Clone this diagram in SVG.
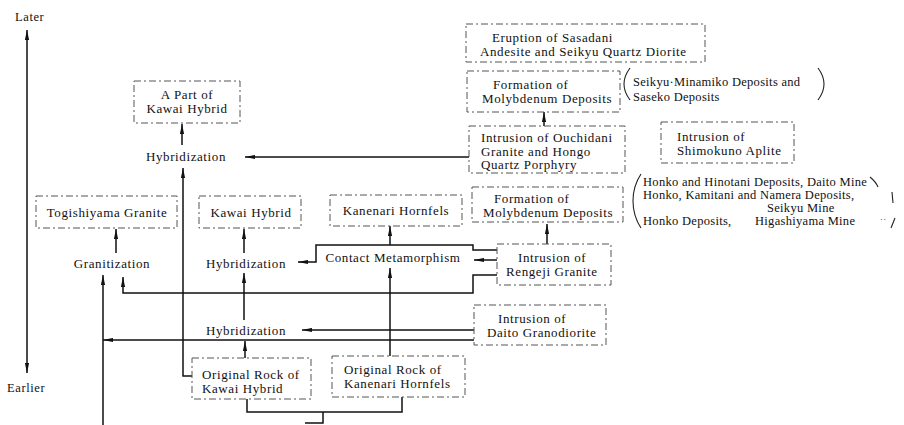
<svg xmlns="http://www.w3.org/2000/svg" width="904" height="425" viewBox="0 0 904 425">
<defs>
<marker id="ah" viewBox="0 0 12 6" refX="12" refY="3" markerWidth="12" markerHeight="5" markerUnits="userSpaceOnUse" orient="auto">
<path d="M0,0.5 L12,3 L0,5.5 z" fill="#111"/>
</marker>
<style>
text{font-family:"Liberation Serif","Times New Roman",serif;font-size:13px;fill:#111;letter-spacing:0.6px}
.c{text-anchor:middle}
.n{font-size:12.5px;letter-spacing:0.3px}
.box{fill:none;stroke:#555;stroke-width:1;stroke-dasharray:7 3 2 3}
.ln{fill:none;stroke:#111;stroke-width:1.5}
.ar{fill:none;stroke:#111;stroke-width:1.5;marker-end:url(#ah)}
.br{fill:none;stroke:#222;stroke-width:1.1}
</style>
</defs>

<g id="axis">
<text x="15" y="21" style="font-size:12.5px">Later</text>
<text x="7" y="392" style="font-size:12.5px">Earlier</text>
<line class="ar" x1="27" y1="200" x2="27" y2="30"/>
<line class="ar" x1="27" y1="200" x2="27" y2="373"/>
</g>

<g id="connectors">
<path class="ar" d="M469,157 H245"/>
<path class="ar" d="M182,145 V124"/>
<path class="ar" d="M192,376 H183 V168"/>
<path class="ar" d="M116,253 V229"/>
<path class="ar" d="M103,425 V275"/>
<path class="ar" d="M474,340 H103"/>
<path class="ar" d="M497,275 H473 V293 H123 V277"/>
<path class="ar" d="M497,260 H474"/>
<path class="ar" d="M497,250 H473 V245 H316 V262 H298"/>
<path class="ar" d="M244,253 V229"/>
<path class="ar" d="M244,320 V273"/>
<path class="ar" d="M245,358 V341"/>
<path class="ar" d="M474,330 H302"/>
<path class="ar" d="M390,356 V268"/>
<path class="ar" d="M390,245 V226"/>
<path class="ar" d="M547,244 V224"/>
<path class="ar" d="M544,126 V112"/>
<path class="ln" d="M247,399 V412 H402 V397"/>
<path class="ln" d="M323,412 V423 H305"/>
</g>

<g id="partKawai">
<rect class="box" x="134" y="81" width="106" height="42"/>
<text class="c" x="187" y="99">A Part of</text>
<text class="c" x="187" y="113">Kawai Hybrid</text>
</g>

<g id="hybridTop">
<text class="c" x="186" y="161">Hybridization</text>
</g>

<g id="togishiyama">
<rect class="box" x="36" y="196" width="141" height="32"/>
<text class="c" x="107" y="217">Togishiyama Granite</text>
</g>

<g id="kawaiHybrid">
<rect class="box" x="199" y="196" width="102" height="32"/>
<text class="c" x="251" y="217">Kawai Hybrid</text>
</g>

<g id="kanenariHornfels">
<rect class="box" x="330" y="195" width="132" height="31"/>
<text class="c" x="396" y="215">Kanenari Hornfels</text>
</g>

<g id="granitization">
<text class="c" x="112" y="268">Granitization</text>
</g>

<g id="hybridMid">
<text class="c" x="246" y="268">Hybridization</text>
</g>

<g id="contactMeta">
<text class="c" x="393" y="262">Contact Metamorphism</text>
</g>

<g id="hybridLow">
<text class="c" x="246" y="335">Hybridization</text>
</g>

<g id="origKawai">
<rect class="box" x="192" y="358" width="119" height="41"/>
<text x="202" y="379">Original Rock of</text>
<text x="202" y="393">Kawai Hybrid</text>
</g>

<g id="origKanenari">
<rect class="box" x="332" y="356" width="133" height="41"/>
<text x="344" y="374">Original Rock of</text>
<text x="344" y="388">Kanenari Hornfels</text>
</g>

<g id="eruption">
<rect class="box" x="466" y="24" width="239" height="38"/>
<text x="492" y="42">Eruption of Sasadani</text>
<text x="480" y="56">Andesite and Seikyu Quartz Diorite</text>
</g>

<g id="formUpper">
<rect class="box" x="467" y="71" width="153" height="41"/>
<text x="493" y="89">Formation of</text>
<text x="482" y="103">Molybdenum Deposits</text>
</g>

<g id="ouchidani">
<rect class="box" x="469" y="126" width="156" height="47"/>
<text x="481" y="142">Intrusion of Ouchidani</text>
<text x="481" y="155.5">Granite and Hongo</text>
<text x="481" y="169">Quartz Porphyry</text>
</g>

<g id="shimokuno">
<rect class="box" x="661" y="122" width="133" height="41"/>
<text x="677" y="141">Intrusion of</text>
<text x="677" y="155">Shimokuno Aplite</text>
</g>

<g id="formLower">
<rect class="box" x="472" y="187" width="151" height="35"/>
<text x="494" y="203">Formation of</text>
<text x="483" y="217">Molybdenum Deposits</text>
</g>

<g id="rengeji">
<rect class="box" x="497" y="244" width="114" height="41"/>
<text x="518" y="262">Intrusion of</text>
<text x="506" y="276">Rengeji Granite</text>
</g>

<g id="daito">
<rect class="box" x="474" y="305" width="132" height="40"/>
<text x="498" y="323">Intrusion of</text>
<text x="487" y="337">Daito Granodiorite</text>
</g>

<g id="noteSeikyu">
<path class="br" d="M630,68 Q624,76 624,84 Q624,92 630,100"/>
<path class="br" d="M818,68 Q824,76 824,84 Q824,92 818,100"/>
<text class="n" x="633" y="86">Seikyu·Minamiko Deposits and</text>
<text class="n" x="633" y="101">Saseko Deposits</text>
</g>

<g id="noteDeposits">
<path class="br" d="M641,174 Q633,186 633,201 Q633,216 641,228"/>
<path class="br" d="M870,177 Q876,182 878,187"/>
<path class="br" d="M892,192 L893,203"/>
<path class="br" d="M895,218 L891,228"/>
<text class="n" x="643" y="186">Honko and Hinotani Deposits, Daito Mine</text>
<text class="n" x="643" y="199">Honko, Kamitani and Namera Deposits,</text>
<text class="n" x="767" y="212">Seikyu Mine</text>
<text class="n" x="643" y="225">Honko Deposits,</text>
<text class="n" x="755" y="225">Higashiyama Mine</text>
<text class="n" x="880" y="222" style="font-size:9px">··</text>
</g>
</svg>
